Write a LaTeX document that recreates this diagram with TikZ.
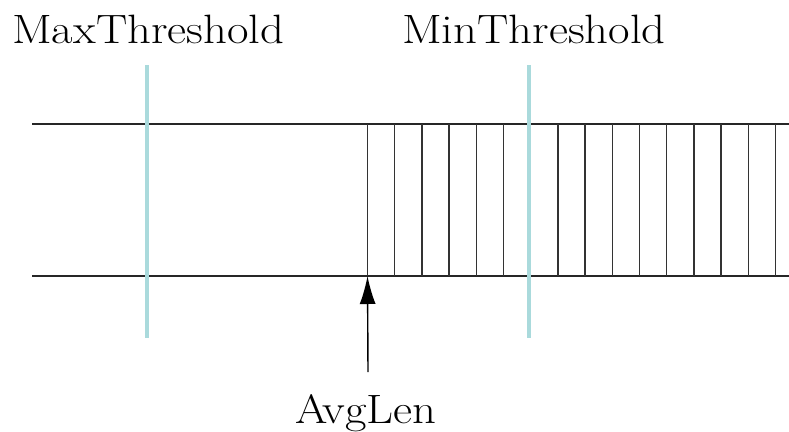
\documentclass[tikz,border=0pt]{standalone}
\usetikzlibrary{arrows.meta}
\begin{document}
\begin{tikzpicture}[x=1pt,y=-1pt,
  rail/.style={line width=1.5pt,black!85},
  slot/.style={line width=1.3pt,black!80},
  thresh/.style={line width=4pt,color={rgb,255:red,170;green,218;blue,220}},
  lbl/.style={inner sep=0pt,xscale=1.14,font=\fontsize{41}{48}\selectfont},
  pointer/.style={line width=1.4pt,-{Latex[length=28pt,width=16pt]}}]
  \useasboundingbox (0,0) rectangle (789,431);

  % queue rails
  \coordinate (topL) at (32,124);
  \coordinate (topR) at (789,124);
  \coordinate (botL) at (32,276);
  \coordinate (botR) at (789,276);
  \draw[rail] (topL) -- (topR);
  \draw[rail] (botL) -- (botR);

  % occupied slots
  \foreach \k in {0,...,15} {
    \pgfmathsetmacro{\xx}{367.5+27.2*\k}
    \coordinate (st\k) at (\xx,124);
    \coordinate (sb\k) at (\xx,276);
    \draw[slot] (st\k) -- (sb\k);
  }

  % threshold markers
  \coordinate (maxT) at (147,65);
  \coordinate (maxB) at (147,338);
  \coordinate (minT) at (529,65);
  \coordinate (minB) at (529,338);
  \draw[thresh] (maxT) -- (maxB);
  \draw[thresh] (minT) -- (minB);

  % labels
  \node[lbl,anchor=base west] (maxlbl) at (12,43) {MaxThreshold};
  \node[lbl,anchor=base west] (minlbl) at (402,43) {MinThreshold};
  \node[lbl,anchor=base] (avg) at (366,423) {AvgLen};

  % average length pointer
  \coordinate (avgTail) at (368,372);
  \draw[pointer] (avgTail) -- (sb0);
\end{tikzpicture}
\end{document}
